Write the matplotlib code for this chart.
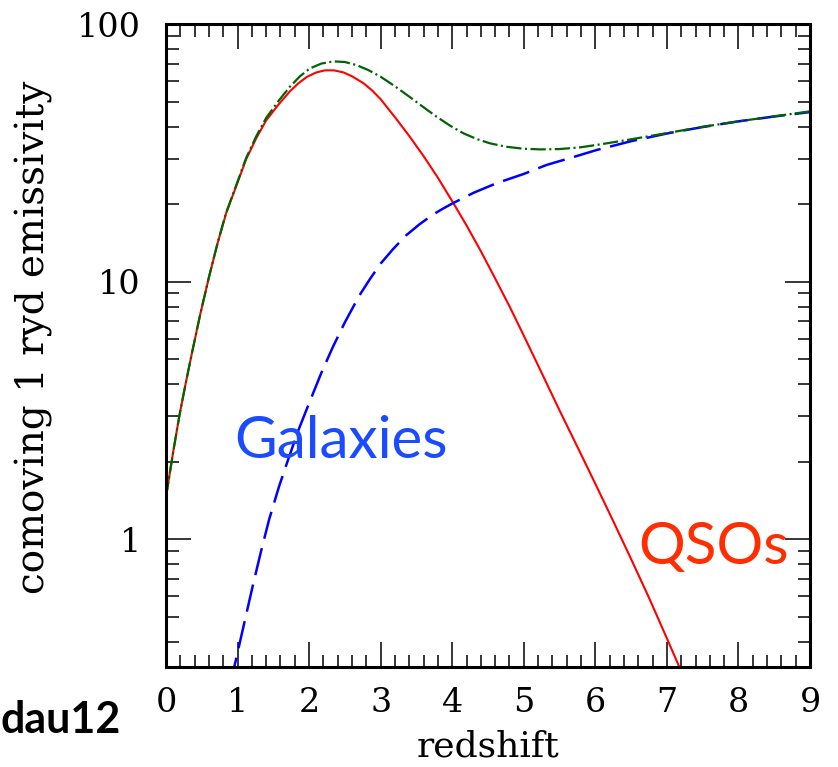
import numpy as np
import matplotlib
matplotlib.use("Agg")
import matplotlib.pyplot as plt
from matplotlib.ticker import MultipleLocator, LogLocator, NullFormatter, FuncFormatter

plt.rcParams["lines.scale_dashes"] = False

# QSO contribution (red, solid)
z_qso = [0.0, 0.1, 0.19, 0.28, 0.37, 0.48, 0.6, 0.72, 0.84, 0.98, 1.12, 1.26,
         1.4, 1.58, 1.73, 1.85, 1.97, 2.1, 2.22, 2.35, 2.48, 2.6, 2.76, 2.88,
         3.0, 3.2, 3.4, 3.6, 3.8, 4.0, 4.2, 4.4, 4.6, 4.8, 5.0, 5.25, 5.5,
         5.75, 6.0, 6.25, 6.5, 6.75, 7.0, 7.25]
e_qso = [1.46, 2.18, 3.05, 4.09, 5.40, 7.50, 10.4, 14.06, 18.41, 23.44, 29.85, 35.97,
         42.27, 48.98, 54.70, 58.88, 62.37, 64.86, 66.07, 66.07, 64.86, 62.66, 58.88, 55.21,
         51.05, 43.45, 36.73, 30.69, 25.29, 20.51, 16.52, 13.12, 10.28, 8.02, 6.17, 4.42, 3.16,
         2.28, 1.64, 1.175, 0.837, 0.592, 0.412, 0.285]

# galaxy contribution (blue, dashed)
z_gal = [0.9, 0.955, 1.1, 1.21, 1.33, 1.44, 1.58, 1.72, 1.86, 2.0, 2.17, 2.33,
         2.5, 2.7, 2.85, 3.0, 3.17, 3.35, 3.54, 3.73, 3.87, 4.0, 4.3, 4.62,
         5.0, 5.32, 5.7, 6.02, 6.5, 7.02, 7.5, 8.0, 8.5, 9.0]
e_gal = [0.272, 0.320, 0.481, 0.655, 0.902, 1.189, 1.603, 2.089, 2.692, 3.373, 4.416, 5.559,
         6.950, 8.810, 10.23, 11.75, 13.34, 15.07, 16.67, 18.20, 19.19, 20.09, 22.13, 24.10,
         26.18, 28.38, 30.48, 32.43, 35.08, 37.67, 39.81, 41.88, 43.75, 45.50]

# total (green, dash-dot)
z_tot = [0.0, 0.1, 0.19, 0.28, 0.37, 0.48, 0.6, 0.72, 0.84, 0.98, 1.12, 1.26,
         1.4, 1.58, 1.73, 1.87, 2.01, 2.17, 2.34, 2.5, 2.66, 2.83, 3.0, 3.2,
         3.41, 3.6, 3.78, 3.97, 4.16, 4.35, 4.53, 4.75, 4.99, 5.23, 5.5, 5.79,
         6.1, 6.48, 7.02, 7.5, 8.0, 8.5, 9.0]
e_tot = [1.46, 2.18, 3.05, 4.09, 5.40, 7.50, 10.4, 14.1, 18.5, 23.6, 30.2, 36.6,
         43.2, 50.6, 57.0, 62.6, 67.2, 70.2, 71.6, 71.2, 69.3, 66.2, 62.4, 57.3,
         52.0, 47.5, 43.7, 40.3, 37.6, 35.7, 34.4, 33.4, 32.8, 32.6, 32.7, 33.2,
         34.2, 35.6, 37.8, 39.9, 41.9, 43.8, 45.8]

fig = plt.figure(figsize=(8.38, 7.67), dpi=100)
ax = fig.add_axes([0.1981, 0.1304, 0.7685, 0.8383])

ax.plot(z_qso, e_qso, color="#ff0000", lw=1.5)
ax.plot(z_gal, e_gal, color="#0000ff", lw=1.8, linestyle=(0, (20, 7)))
ax.plot(z_tot, e_tot, color="#006400", lw=1.6, linestyle=(0, (11, 2.5, 1.5, 2.5)))

ax.set_yscale("log")
ax.set_xlim(0, 9)
ax.set_ylim(0.319, 100)

ax.set_xticks(range(10))
ax.xaxis.set_minor_locator(MultipleLocator(0.2))
ax.yaxis.set_major_locator(LogLocator(base=10))
ax.yaxis.set_minor_locator(LogLocator(base=10, subs=np.arange(2, 10)))
ax.yaxis.set_minor_formatter(NullFormatter())
ax.yaxis.set_major_formatter(FuncFormatter(lambda v, p: f"{v:g}"))

ax.tick_params(which="both", direction="in", top=True, right=True, width=1.1)
ax.tick_params(which="major", length=18)
ax.tick_params(which="minor", length=9)
ax.tick_params(axis="x", pad=14.5)
ax.tick_params(axis="y", pad=18)
for lab in ax.get_xticklabels() + ax.get_yticklabels():
    lab.set_family("DejaVu Serif")
    lab.set_fontsize(24)
for sp in ax.spines.values():
    sp.set_linewidth(2.2)

ax.set_xlabel("redshift", family="DejaVu Serif", fontsize=26)
ax.set_ylabel("comoving 1 ryd emissivity", family="DejaVu Serif", fontsize=28)
ax.xaxis.set_label_coords(0.5, -0.0975)
ax.yaxis.set_label_coords(-0.175, 0.513)

fig.text(234 / 838, 1 - 458 / 767, "Galaxies", family="Lato", fontsize=42,
         color="#1a4bff", ha="left", va="baseline")
fig.text(638 / 838, 1 - 564 / 767, "QSOs", family="Lato", fontsize=42,
         color="#ff2d00", ha="left", va="baseline")
fig.text(1 / 838, 1 - 733 / 767, "dau12", family="Lato", fontsize=31,
         fontweight="bold", color="black", ha="left", va="baseline")

fig.savefig("out.png", dpi=100)
